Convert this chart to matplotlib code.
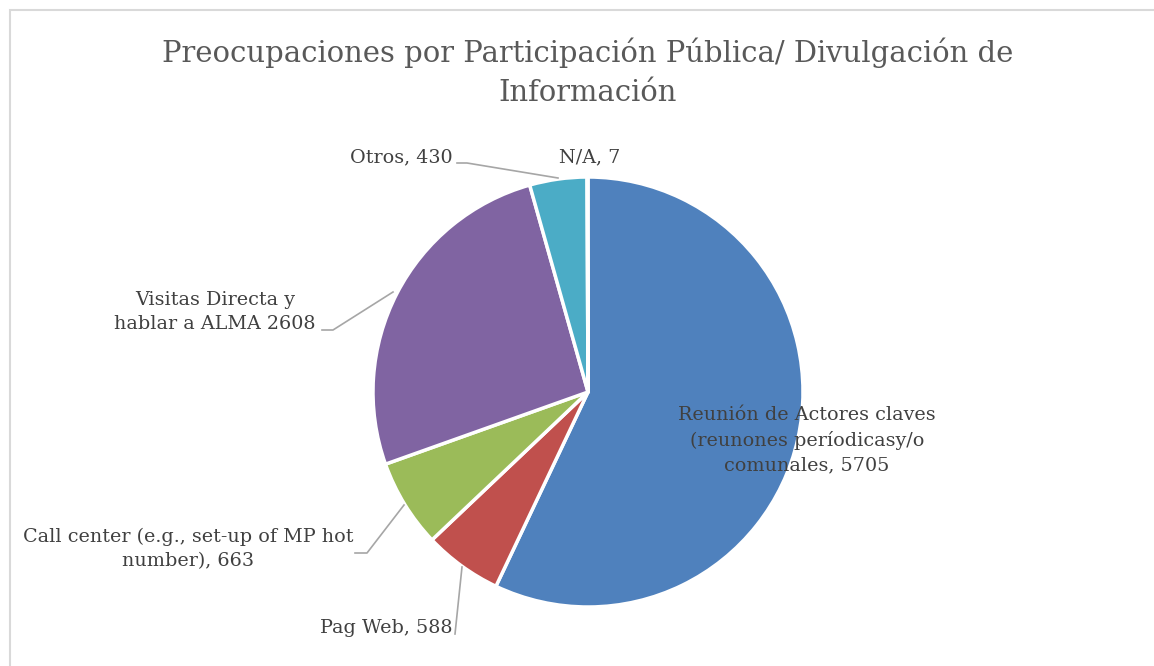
import numpy as np
import matplotlib.pyplot as plt
from matplotlib.patches import Rectangle

# Participation concerns, counts per channel
labels = ['Reunión de Actores claves\n(reunones períodicasy/o\ncomunales, 5705',
          'Pag Web, 588',
          'Call center (e.g., set-up of MP hot\nnumber), 663',
          'Visitas Directa y\nhablar a ALMA 2608',
          'Otros, 430',
          'N/A, 7']
values = [5705, 588, 663, 2608, 430, 7]
colors = ['#4F81BD', '#C0504D', '#9BBB59', '#8064A2', '#4BACC6', '#F79646']

title = 'Preocupaciones por Participación Pública/ Divulgación de\nInformación'

W, H = 1154, 666
CX, CY, R = 588, 392, 215

plt.rcParams['font.family'] = ['DejaVu Serif']

fig = plt.figure(figsize=(W / 100, H / 100), dpi=100)
ax = fig.add_axes([0, 0, 1, 1])


def px(x, y):
    # pixel position (from top-left) -> data units of the pie axes
    return (x - CX) / R, (CY - y) / R


ax.pie(values, colors=colors, startangle=90, counterclock=False, radius=1,
       wedgeprops=dict(edgecolor='white', linewidth=2.5))
ax.set_xlim(-CX / R, (W - CX) / R)
ax.set_ylim(-(H - CY) / R, CY / R)
ax.axis('off')

txt = '#404040'
fs = 13.8
ls = 1.45
ax.text(*px(807, 440), labels[0], ha='center', va='center', fontsize=fs,
        color=txt, linespacing=ls)
ax.text(*px(452, 628), labels[1], ha='right', va='center', fontsize=fs, color=txt)
ax.text(*px(188, 549), labels[2], ha='center', va='center', fontsize=fs,
        color=txt, linespacing=ls)
ax.text(*px(215, 312), labels[3], ha='center', va='center', fontsize=fs,
        color=txt, linespacing=ls)
ax.text(*px(453, 157), labels[4], ha='right', va='center', fontsize=fs, color=txt)
ax.text(*px(590, 157), labels[5], ha='center', va='center', fontsize=fs, color=txt)

# leader lines
lc = '#A6A6A6'
leaders = [
    [(462, 567), (455, 634)],
    [(355, 553), (367, 553), (404, 505)],
    [(322, 330), (333, 330), (393, 292)],
    [(457, 163), (467, 163), (558, 178)],
]
for pts in leaders:
    xs, ys = zip(*[px(x, y) for x, y in pts])
    ax.plot(xs, ys, color=lc, linewidth=1.2)

fig.text(CX / W, 1 - 72 / H, title, ha='center', va='center', fontsize=20.9,
         color='#595959', linespacing=1.5)

# chart frame
fig.patches.append(Rectangle((10 / W, -0.1), 1.2, (H - 10) / H + 0.1,
                             transform=fig.transFigure, fill=False,
                             edgecolor='#D9D9D9', linewidth=1.5))

fig.savefig('out.png', dpi=100, facecolor='white')
